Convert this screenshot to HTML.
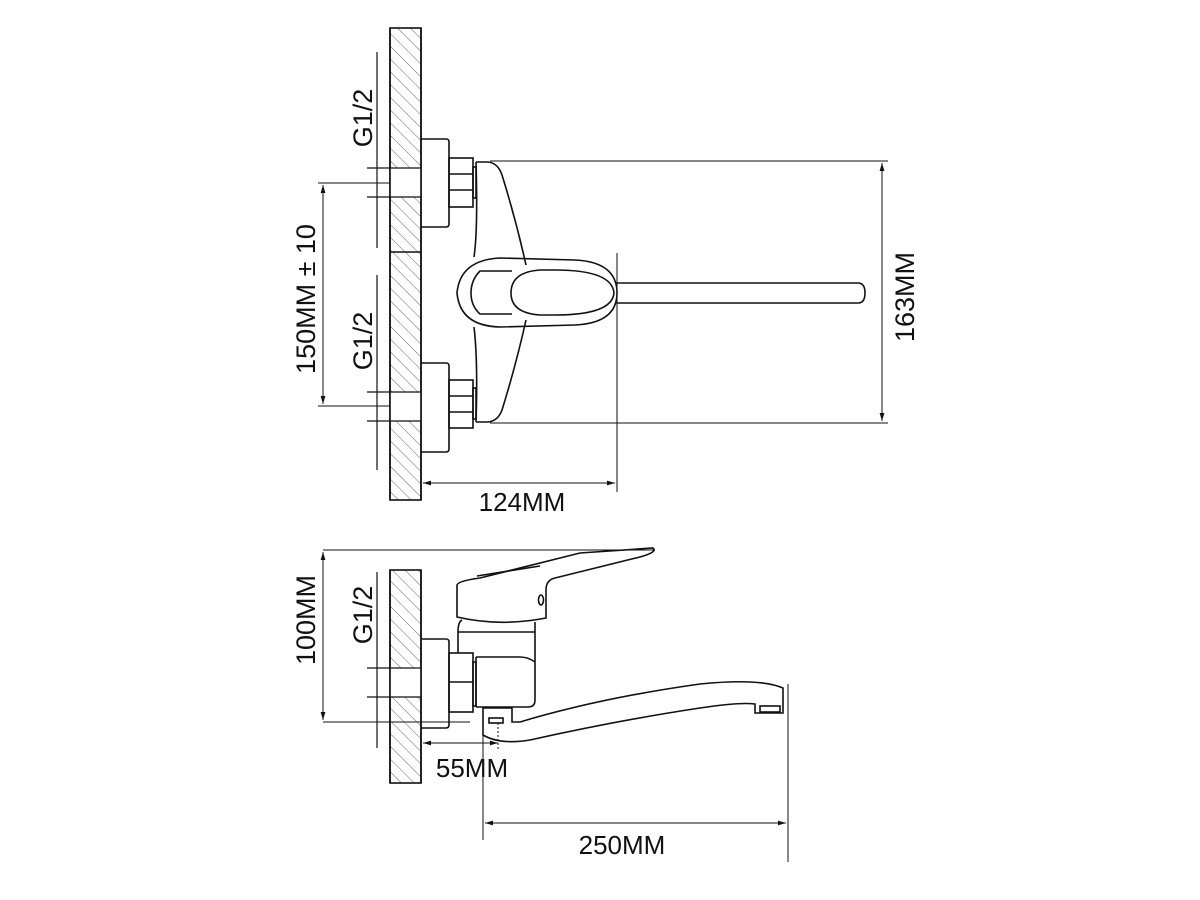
<!DOCTYPE html>
<html><head><meta charset="utf-8"><style>
html,body{margin:0;padding:0;background:#fff;}
svg{display:block}
text{font-family:"Liberation Sans",Arial,sans-serif;fill:#111;}
</style></head><body>
<svg width="1200" height="900" viewBox="0 0 1200 900" xmlns="http://www.w3.org/2000/svg">
<defs>
<pattern id="h" width="9" height="9" patternUnits="userSpaceOnUse" patternTransform="rotate(-45)">
<line x1="0" y1="0" x2="0" y2="9" stroke="#444" stroke-width="0.8"/>
</pattern>
<marker id="a" viewBox="0 0 10 10" refX="10" refY="5" markerWidth="8" markerHeight="8" orient="auto-start-reverse">
<path d="M0,2 L10,5 L0,8 z" fill="#111"/>
</marker>
</defs>
<g fill="none" stroke="#111" stroke-width="1.6">
<rect x="390" y="28" width="31" height="472" fill="url(#h)"/>
<line x1="390" y1="252" x2="421" y2="252"/>
<rect x="390" y="168" width="31" height="29" fill="#fff" stroke="none"/>
<rect x="390" y="392" width="31" height="29" fill="#fff" stroke="none"/>
<line x1="390" y1="28" x2="390" y2="500"/>
<line x1="421" y1="28" x2="421" y2="500"/>
<line x1="367" y1="168" x2="421" y2="168" stroke-width="1.2"/>
<line x1="367" y1="197" x2="421" y2="197" stroke-width="1.2"/>
<line x1="367" y1="392" x2="421" y2="392" stroke-width="1.2"/>
<line x1="367" y1="421" x2="421" y2="421" stroke-width="1.2"/>
<line x1="377" y1="52" x2="377" y2="248" stroke-width="1.2"/>
<line x1="377" y1="275" x2="377" y2="470" stroke-width="1.2"/>
<path d="M421,139 H446 Q449,139 449,142 V224 Q449,227 446,227 H421"/>
<rect x="449" y="158" width="24" height="49"/>
<line x1="449" y1="174" x2="473" y2="174"/>
<line x1="449" y1="190" x2="473" y2="190"/>
<rect x="473" y="167" width="3" height="31"/>
<path d="M421,363 H446 Q449,363 449,366 V449 Q449,452 446,452 H421"/>
<rect x="449" y="380" width="24" height="48"/>
<line x1="449" y1="396" x2="473" y2="396"/>
<line x1="449" y1="412" x2="473" y2="412"/>
<rect x="473" y="388" width="3" height="31"/>
<path d="M476,162 Q478,230 474,257"/>
<path d="M476,162 H488 Q498,163 502,175 Q516,220 526,265"/>
<path d="M476,422 Q478,360 474,327"/>
<path d="M476,422 H488 Q498,421 502,410 Q516,365 526,320"/>
<path d="M617,293 Q617,262 575,260 L500,258 Q460,260 457,293 Q460,326 500,327 L575,325 Q617,323 617,293 Z"/>
<path d="M512,271 H480 Q471,280 471,293 Q471,306 480,314 H512"/>
<path d="M555,270 Q612,270 614,293 Q612,315 555,315 L540,315 Q511,313 511,293 Q511,272 540,270 Z"/>
<path d="M617,283 H858 Q865,283 865,293 Q865,303 858,303 H617"/>
<g stroke-width="1">
<line x1="490" y1="161" x2="888" y2="161"/>
<line x1="490" y1="423" x2="888" y2="423"/>
<line x1="882" y1="163" x2="882" y2="421" marker-start="url(#a)" marker-end="url(#a)"/>
<line x1="617" y1="253" x2="617" y2="492"/>
<line x1="423" y1="483" x2="615" y2="483" marker-start="url(#a)" marker-end="url(#a)"/>
<line x1="318" y1="183" x2="390" y2="183"/>
<line x1="318" y1="406" x2="390" y2="406"/>
<line x1="323" y1="185" x2="323" y2="404" marker-start="url(#a)" marker-end="url(#a)"/>
</g>
<rect x="390" y="570" width="31" height="213" fill="url(#h)"/>
<rect x="390" y="668" width="31" height="29" fill="#fff" stroke="none"/>
<line x1="390" y1="570" x2="390" y2="783"/>
<line x1="421" y1="570" x2="421" y2="783"/>
<line x1="367" y1="668" x2="421" y2="668" stroke-width="1.2"/>
<line x1="367" y1="697" x2="421" y2="697" stroke-width="1.2"/>
<line x1="377" y1="572" x2="377" y2="748" stroke-width="1.2"/>
<path d="M421,639 H446 Q449,639 449,642 V725 Q449,728 446,728 H421"/>
<rect x="449" y="653" width="24" height="59"/>
<line x1="449" y1="682" x2="473" y2="682"/>
<rect x="473" y="662" width="3" height="44"/>
<path d="M458,653 V632 Q458,622 462,620"/>
<line x1="458" y1="632" x2="535" y2="632"/>
<path d="M535,622 V700 Q535,707 528,707 H476"/>
<path d="M476,657 H520 Q528,657 535,662"/>
<path d="M476,707 V657"/>
<path d="M457,585 V617 Q500,627 546,618 V590 Q546,580 555,578 L640,557 Q658,552 653,548 L580,553 L480,578 Q458,581 457,585 Z"/>
<path d="M477,576 L540,566"/>
<ellipse cx="541" cy="600" rx="2.5" ry="5"/>
<path d="M483,708 V735 Q500,745 530,740 Q620,720 700,708 Q740,702 755,704 V713 H783 V688 Q760,678 700,684 Q600,698 520,722 L512,722 V708 Z"/>
<rect x="489" y="718" width="14" height="5"/>
<rect x="760" y="706" width="20" height="6"/>
<line x1="498" y1="723" x2="498" y2="750" stroke-width="1" stroke-dasharray="2,2"/>
<g stroke-width="1">
<line x1="323" y1="550" x2="655" y2="550"/>
<line x1="323" y1="722" x2="470" y2="722"/>
<line x1="323" y1="552" x2="323" y2="720" marker-start="url(#a)" marker-end="url(#a)"/>
<line x1="423" y1="743" x2="498" y2="743" marker-start="url(#a)" marker-end="url(#a)"/>
<line x1="483" y1="735" x2="483" y2="840"/>
<line x1="788" y1="684" x2="788" y2="862"/>
<line x1="485" y1="823" x2="786" y2="823" marker-start="url(#a)" marker-end="url(#a)"/>
</g>
</g>
<text x="372" y="118" font-size="27" text-anchor="middle" transform="rotate(-90 372 118)">G1/2</text>
<text x="372" y="341" font-size="27" text-anchor="middle" transform="rotate(-90 372 341)">G1/2</text>
<text x="372" y="615" font-size="27" text-anchor="middle" transform="rotate(-90 372 615)">G1/2</text>
<text x="315" y="299" font-size="27" text-anchor="middle" transform="rotate(-90 315 299)">150MM ± 10</text>
<text x="914" y="297" font-size="27" text-anchor="middle" transform="rotate(-90 914 297)">163MM</text>
<text x="315" y="620" font-size="27" text-anchor="middle" transform="rotate(-90 315 620)">100MM</text>
<text x="522" y="511" font-size="26" text-anchor="middle">124MM</text>
<text x="472" y="777" font-size="26" text-anchor="middle">55MM</text>
<text x="622" y="854" font-size="26" text-anchor="middle">250MM</text>
</svg>
</body></html>
